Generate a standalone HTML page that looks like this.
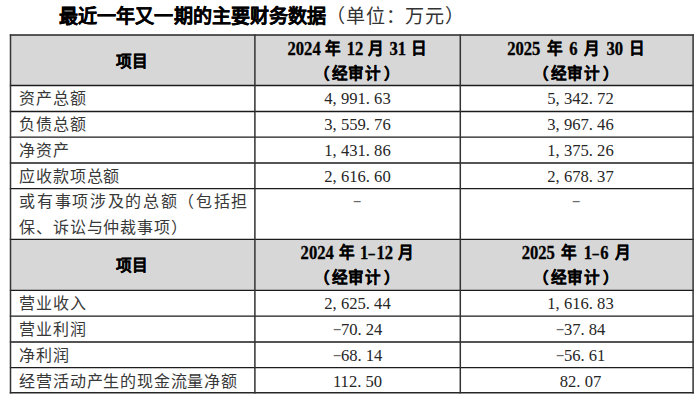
<!DOCTYPE html>
<html lang="zh-CN">
<head>
<meta charset="utf-8">
<title>最近一年又一期的主要财务数据</title>
<style>
  html, body { margin:0; padding:0; background:#fff; }
  body { width:700px; height:402px; position:relative; overflow:hidden;
         font-family:"Liberation Serif", serif; font-size:16.6px; color:#262626; }

  /* ruled grid + shaded header bands (drawn at sub-pixel positions) */
  #grid { position:absolute; left:0; top:0; width:700px; height:402px; }

  /* caption above the table */
  h1 { position:absolute; left:59px; top:5px; margin:0; font-size:19.1px; line-height:24px;
       font-weight:bold; white-space:nowrap; color:#000; letter-spacing:0.1px;
       -webkit-text-stroke:0.2px #000; }
  h1 span { font-weight:normal; color:#333; letter-spacing:0.7px; -webkit-text-stroke:0; }

  /* table text layer */
  table { position:absolute; left:10px; top:35px; width:683px; border-collapse:collapse; border-spacing:0;
          table-layout:fixed; font-family:"Liberation Serif", serif; font-size:16.6px; line-height:25.5px; color:#262626; }
  col.c1 { width:245px; } col.c2 { width:205px; } col.c3 { width:233px; }
  td, th { padding:0; margin:0; border:0; vertical-align:top; text-align:center; font-weight:normal;
           white-space:nowrap; overflow:visible; position:relative; top:1px; }

  td.l { text-align:left; padding-left:9.4px; font-size:16px; letter-spacing:0.8px; color:#383838; }
  td.l .j { letter-spacing:1.66px; }           /* justified first line of the wrapped label */
  td.p { padding-left:8px; }                    /* right-hand figures sit ~4px right of centre */

  th { font-weight:bold; color:#000; font-size:15.6px; letter-spacing:0.6px; word-spacing:0.25px;
       -webkit-text-stroke:0.2px #000; }
  th.w { word-spacing:1.65px; }
  th.m { vertical-align:middle; }
  .k { margin:0 3px 0 1px; }
  .n { display:inline-block; transform:scaleY(1.13); font-size:16.6px; letter-spacing:0;
       -webkit-text-stroke:0.3px #000; }        /* bold date digits */
  .c { display:inline-block; width:8.3px; text-align:left; }   /* half-em wide , and . */
  .d { display:inline-block; width:8.3px; text-align:center; transform:scaleX(1.6); }  /* half-em hyphen */
  td .d { color:#6a6a6a; transform:translateY(-1px) scaleX(1.6); }

  tr.h th { height:50px; line-height:25px; }
  tr.r td { height:26px; line-height:26px; }
  tr.s25 td { height:25px; line-height:25px; }
  tr.s27 td { height:27px; line-height:27px; }
  tr.s51 td { height:51px; line-height:25.5px; }
</style>
</head>
<body>
<svg id="grid" width="700" height="402" viewBox="0 0 700 402">
  <rect x="10.5" y="35" width="682.6" height="50.5" fill="#d7d7d7"/>
  <rect x="10.5" y="239.4" width="682.6" height="50.9" fill="#d7d7d7"/>
  <g fill="none">
    <path stroke="#1c1c1c" stroke-width="1.3" d="M9.8 85.5H693.8 M9.8 111.5H693.8 M9.8 137.2H693.8 M9.8 163H693.8 M9.8 188.6H693.8 M9.8 239.4H693.8 M9.8 290.3H693.8 M9.8 316.1H693.8 M9.8 342H693.8 M9.8 367.6H693.8"/>
    <path stroke="#262626" stroke-width="1.6" d="M9.75 35H693.85 M9.75 392.8H693.85"/>
    <path stroke="#333" stroke-width="1.5" d="M10.5 34.6V393.4 M254.9 34.6V393.4 M460.3 34.6V393.4 M693.1 34.6V393.4"/>
  </g>
</svg>

<h1>最近一年又一期的主要财务数据<span>（单位：万元）</span></h1>

<table>
  <colgroup><col class="c1"><col class="c2"><col class="c3"></colgroup>
  <tbody>
  <tr class="h">
    <th class="m">项目</th>
    <th><span class="n">2024</span> 年 <span class="n">12</span> 月 <span class="n">31</span> 日<br>（<span class="k">经审计</span>）</th>
    <th class="w"><span class="n">2025</span> 年 <span class="n">6</span> 月 <span class="n">30</span> 日<br>（<span class="k">经审计</span>）</th>
  </tr>
  <tr class="r"><td class="l">资产总额</td><td>4<span class="c">,</span>991<span class="c">.</span>63</td><td class="p">5<span class="c">,</span>342<span class="c">.</span>72</td></tr>
  <tr class="r"><td class="l">负债总额</td><td>3<span class="c">,</span>559<span class="c">.</span>76</td><td class="p">3<span class="c">,</span>967<span class="c">.</span>46</td></tr>
  <tr class="r"><td class="l">净资产</td><td>1<span class="c">,</span>431<span class="c">.</span>86</td><td class="p">1<span class="c">,</span>375<span class="c">.</span>26</td></tr>
  <tr class="r s25"><td class="l">应收款项总额</td><td>2<span class="c">,</span>616<span class="c">.</span>60</td><td class="p">2<span class="c">,</span>678<span class="c">.</span>37</td></tr>
  <tr class="r s51"><td class="l"><span class="j">或有事项涉及的总额（包括担</span><br>保、诉讼与仲裁事项）</td><td><span class="d">-</span></td><td><span class="d">-</span></td></tr>
  <tr class="h">
    <th class="m">项目</th>
    <th><span class="n">2024</span> 年 <span class="n">1</span><span class="d">-</span><span class="n">12</span> 月<br>（<span class="k">经审计</span>）</th>
    <th class="w"><span class="n">2025</span> 年 <span class="n">1</span><span class="d">-</span><span class="n">6</span> 月<br>（<span class="k">经审计</span>）</th>
  </tr>
  <tr class="r s27"><td class="l">营业收入</td><td>2<span class="c">,</span>625<span class="c">.</span>44</td><td class="p">1<span class="c">,</span>616<span class="c">.</span>83</td></tr>
  <tr class="r"><td class="l">营业利润</td><td><span class="d">-</span>70<span class="c">.</span>24</td><td class="p"><span class="d">-</span>37<span class="c">.</span>84</td></tr>
  <tr class="r"><td class="l">净利润</td><td><span class="d">-</span>68<span class="c">.</span>14</td><td class="p"><span class="d">-</span>56<span class="c">.</span>61</td></tr>
  <tr class="r s25"><td class="l">经营活动产生的现金流量净额</td><td>112<span class="c">.</span>50</td><td class="p">82<span class="c">.</span>07</td></tr>
  </tbody>
</table>
</body>
</html>
